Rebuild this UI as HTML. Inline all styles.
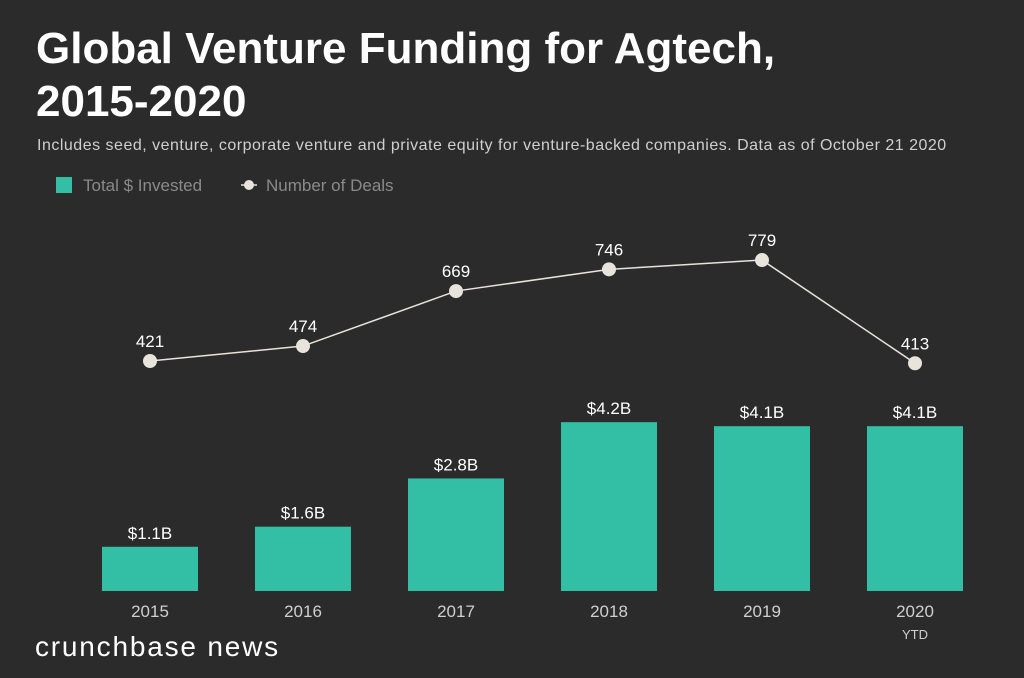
<!DOCTYPE html>
<html><head><meta charset="utf-8"><style>
body{margin:0;background:#2b2b2b;width:1024px;height:678px;overflow:hidden;font-family:"Liberation Sans",sans-serif;}
svg{position:absolute;left:0;top:0}
</style></head><body>
<svg id="c" width="1024" height="678">
<text x="36" y="63" fill="#fff" font-size="44" font-weight="bold">Global Venture Funding for Agtech,</text>
<text x="36" y="116" fill="#fff" font-size="44" font-weight="bold">2015-2020</text>
<text x="37" y="150" fill="#cfcfcf" font-size="16" letter-spacing="0.5">Includes seed, venture, corporate venture and private equity for venture-backed companies. Data as of October 21 2020</text>
<g>
<rect x="56" y="177" width="16" height="16" fill="#33bfa5"/>
<text x="83" y="191" fill="#8a8a8a" font-size="17">Total $ Invested</text>
<line x1="241" y1="185" x2="257" y2="185" stroke="#e8e4dc" stroke-width="1.5"/>
<circle cx="249" cy="185" r="5" fill="#e8e4dc"/>
<text x="266" y="191" fill="#8a8a8a" font-size="17">Number of Deals</text>
</g>
<g id="plot"></g>
<text x="35" y="656" fill="#fff" font-size="28" letter-spacing="1.8">crunchbase news</text>
</svg>
<script>
const categories=["2015","2016","2017","2018","2019","2020"];
const invested=[1.1,1.6,2.8,4.2,4.1,4.1];
const investedLabels=["$1.1B","$1.6B","$2.8B","$4.2B","$4.1B","$4.1B"];
const deals=[421,474,669,746,779,413];
const NS="http://www.w3.org/2000/svg";
const g=document.getElementById('plot');
const x=i=>150+i*153;
const yBar=v=>591-v*40.2;
const yDeal=v=>361-(v-421)*0.282;
function mk(t,a){const e=document.createElementNS(NS,t);for(const k in a)e.setAttribute(k,a[k]);g.appendChild(e);return e;}
invested.forEach((v,i)=>{
 const r=mk('rect',{x:x(i)-48,y:yBar(v),width:96,height:591-yBar(v),fill:'#33bfa5'});
 
 
 const t=mk('text',{x:x(i),y:yBar(v)-8,fill:'#fff','font-size':17,'text-anchor':'middle'});
 t.textContent=investedLabels[i];
 
 
 const c=mk('text',{x:x(i),y:617,fill:'#cfcfcf','font-size':17,'text-anchor':'middle'});
 c.textContent=categories[i];
 
 
});
const ytd=mk('text',{x:x(5),y:639,fill:'#cfcfcf','font-size':13,'text-anchor':'middle'});
ytd.textContent='YTD';


const pl=mk('polyline',{points:deals.map((v,i)=>x(i)+','+yDeal(v)).join(' '),fill:'none',stroke:'#e8e4dc','stroke-width':1.5});


deals.forEach((v,i)=>{
 const c=mk('circle',{cx:x(i),cy:yDeal(v),r:7,fill:'#e8e4dc'});
 
 
 const t=mk('text',{x:x(i),y:yDeal(v)-14,fill:'#fff','font-size':17,'text-anchor':'middle'});
 t.textContent=v;
 
 
});
</script>
</body></html>
